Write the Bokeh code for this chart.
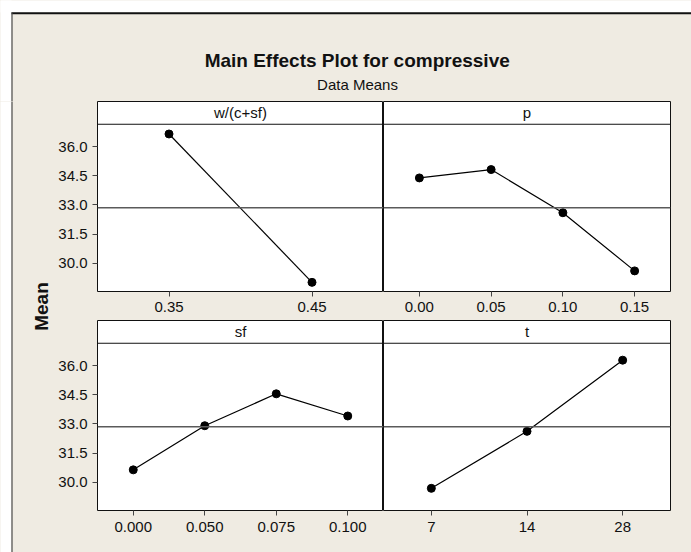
import numpy as np
from bokeh.plotting import figure
from bokeh.layouts import column, row
from bokeh.models import FactorRange, Range1d, Span, Label, FixedTicker, NumeralTickFormatter
from bokeh.embed import file_html
from bokeh.resources import INLINE

# ---------------- data ----------------
title_text = "Main Effects Plot for compressive"
subtitle_text = "Data Means"
y_label = "Mean"

w_name = "w/(c+sf)"
w_levels = ["0.35", "0.45"]
w_means = [36.65, 29.02]

p_name = "p"
p_levels = ["0.00", "0.05", "0.10", "0.15"]
p_means = [34.39, 34.82, 32.60, 29.61]

sf_name = "sf"
sf_levels = ["0.000", "0.050", "0.075", "0.100"]
sf_means = [30.64, 32.91, 34.55, 33.41]

t_name = "t"
t_levels = ["7", "14", "28"]
t_means = [29.69, 32.62, 36.28]

y_ticks = [30.0, 31.5, 33.0, 34.5, 36.0]

grand_mean = float(np.mean([np.mean(w_means), np.mean(p_means),
                            np.mean(sf_means), np.mean(t_means)]))

# ---------------- style ----------------
BEIGE = "#EFEBE2"
FONT = "Liberation Sans"
TXT = "#111111"
Y_LO, Y_STRIP, Y_HI = 28.55, 37.15, 38.32

W_TOTAL, H_TITLE, W_LEFT = 691, 101, 53
BG = {"background-color": BEIGE}


def panel(levels, means, name, width, height, left_axis, mb_left, mb_right, mb_bottom, standoff):
    p = figure(width=width, height=height,
               x_range=FactorRange(factors=levels, range_padding=0),
               y_range=Range1d(Y_LO, Y_HI),
               output_backend="svg", toolbar_location=None, tools="",
               min_border_left=mb_left, min_border_right=mb_right,
               min_border_top=0, min_border_bottom=mb_bottom,
               y_axis_location="left" if left_axis else None,
               background_fill_color="white", border_fill_color=BEIGE,
               outline_line_color="#111111", outline_line_width=1,
               styles=BG)
    p.xgrid.visible = False
    p.ygrid.visible = False
    # strip header
    p.add_layout(Span(location=Y_STRIP, dimension="width", line_color="#111111", line_width=1))
    p.add_layout(Label(x=len(levels) / 2.0, y=(Y_STRIP + Y_HI) / 2.0, text=name,
                       text_align="center", text_baseline="middle",
                       text_font=FONT, text_font_size="15px", text_color=TXT))
    # grand mean reference line
    p.add_layout(Span(location=grand_mean, dimension="width", line_color="#5a5a5a", line_width=1.3))
    # data
    p.line(levels, means, line_color="black", line_width=1.2)
    p.scatter(levels, means, size=8, fill_color="black", line_color="black")
    # x axis
    ax = p.xaxis[0]
    ax.axis_line_color = None
    ax.major_tick_out = 5
    ax.major_tick_in = 0
    ax.major_tick_line_color = "#444444"
    ax.major_label_standoff = standoff
    ax.major_label_text_font = FONT
    ax.major_label_text_font_size = "15px"
    ax.major_label_text_color = TXT
    if left_axis:
        ay = p.yaxis[0]
        ay.ticker = FixedTicker(ticks=y_ticks)
        ay.formatter = NumeralTickFormatter(format="0.0")
        ay.axis_line_color = None
        ay.major_tick_out = 5
        ay.major_tick_in = 0
        ay.minor_tick_line_color = None
        ay.major_tick_line_color = "#444444"
        ay.major_label_standoff = 5
        ay.major_label_text_font = FONT
        ay.major_label_text_font_size = "15px"
        ay.major_label_text_color = TXT
    return p


p1 = panel(w_levels, w_means, w_name, 330, 219, True, 44, 0, 29, 5)
p2 = panel(p_levels, p_means, p_name, 308, 219, False, 0, 21, 29, 5)
p3 = panel(sf_levels, sf_means, sf_name, 330, 232, True, 44, 0, 42, 6)
p4 = panel(t_levels, t_means, t_name, 308, 232, False, 0, 21, 42, 6)

# ---------------- title area ----------------
tf = figure(width=W_TOTAL, height=H_TITLE, x_range=Range1d(0, W_TOTAL), y_range=Range1d(H_TITLE, 0),
            output_backend="svg", toolbar_location=None, tools="",
            x_axis_location=None, y_axis_location=None, min_border=0,
            background_fill_color=BEIGE, border_fill_color=BEIGE,
            outline_line_color=None, styles=BG)
tf.xgrid.visible = False
tf.ygrid.visible = False
tf.quad(left=-2, right=11, top=-2, bottom=H_TITLE + 2, fill_color="white", line_color=None)
tf.quad(left=-2, right=W_TOTAL + 2, top=-2, bottom=12, fill_color="white", line_color=None)
tf.segment(x0=11, y0=12.7, x1=W_TOTAL + 2, y1=12.7, line_color="#111111", line_width=2)
tf.segment(x0=11.5, y0=12, x1=11.5, y1=H_TITLE + 2, line_color="#4a4a4a", line_width=1.2)
tf.add_layout(Label(x=356.7, y=60, text=title_text, text_align="center",
                    text_baseline="alphabetic", text_font=FONT, text_font_style="bold",
                    text_font_size="19px", text_color=TXT))
tf.add_layout(Label(x=357, y=84.3, text=subtitle_text, text_align="center",
                    text_baseline="alphabetic", text_font=FONT,
                    text_font_size="15px", text_color=TXT))

# ---------------- left label area ----------------
H_LEFT = 451
lf = figure(width=W_LEFT, height=H_LEFT, x_range=Range1d(0, W_LEFT), y_range=Range1d(H_LEFT, 0),
            output_backend="svg", toolbar_location=None, tools="",
            x_axis_location=None, y_axis_location=None, min_border=0,
            background_fill_color=BEIGE, border_fill_color=BEIGE,
            outline_line_color=None, styles=BG)
lf.xgrid.visible = False
lf.ygrid.visible = False
lf.quad(left=-2, right=11, top=-2, bottom=H_LEFT + 2, fill_color="white", line_color=None)
lf.segment(x0=11.5, y0=-2, x1=11.5, y1=H_LEFT + 2, line_color="#4a4a4a", line_width=1.2)
lf.add_layout(Label(x=40.7, y=306 - H_TITLE, text=y_label, angle=np.pi / 2, text_align="center",
                    text_baseline="middle", text_font=FONT, text_font_style="bold",
                    text_font_size="19px", text_color=TXT))

grid = column(row(p1, p2, styles=BG), row(p3, p4, styles=BG), styles=BG)
layout = column(tf, row(lf, grid, styles=BG), styles=BG)

open("out.html", "w").write(file_html(layout, INLINE))
